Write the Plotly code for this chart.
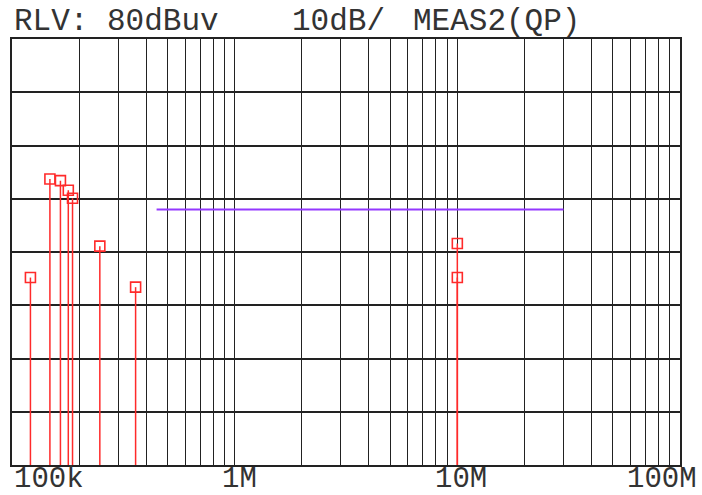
import math
import plotly.graph_objects as go

# Measured quasi-peak emission points (frequency in Hz, level in dBuV)
freqs_hz = [121e3, 148e3, 165e3, 179e3, 187e3, 248e3, 359e3, 10.0e6, 10.0e6]
levels_dbuv = [35.2, 53.7, 53.4, 51.6, 50.1, 41.1, 33.4, 41.6, 35.2]

# Limit line
limit_freqs_hz = [446e3, 30e6]
limit_dbuv = [48.0, 48.0]

# Axis settings
ref_level = 80
db_per_div = 10
tick_freqs = [100e3, 1e6, 10e6, 100e6]
tick_labels = ["100k", "1M", "10M", "100M"]
tick_shifts = [37, 5, 4, -18]

header_parts = ["RLV: 80dBuv", "10dB/", "MEAS2(QP)"]
header_x_px = [12, 290, 411]

FONT = "Liberation Mono, Courier New, monospace"
W, H = 702, 495
ML, MR, MT, MB = 12, 22, 39, 30
plot_w = W - ML - MR
plot_h = H - MT - MB

# stems from the floor up to each measured level
stem_x, stem_y = [], []
for f, lv in zip(freqs_hz, levels_dbuv):
    stem_x += [f, f, None]
    stem_y += [0, lv, None]

fig = go.Figure()
fig.add_trace(go.Scatter(
    x=stem_x, y=stem_y, mode="lines",
    line=dict(color="#ff2a2a", width=1.5), hoverinfo="skip", showlegend=False,
))
fig.add_trace(go.Scatter(
    x=limit_freqs_hz, y=limit_dbuv, mode="lines",
    line=dict(color="#9438ff", width=2), showlegend=False,
))
fig.add_trace(go.Scatter(
    x=freqs_hz, y=levels_dbuv, mode="markers",
    marker=dict(symbol="square-open", size=10, color="#ff2a2a",
                line=dict(width=1.6, color="#ff2a2a")),
    showlegend=False,
))

fig.update_xaxes(
    type="log", range=[5, 8], dtick="D1", showticklabels=False, ticks="",
    showgrid=True, gridcolor="#222222", gridwidth=1.4,
    showline=True, linecolor="#222222", linewidth=2, mirror=True, zeroline=False,
)
fig.update_yaxes(
    range=[0, ref_level], dtick=db_per_div, showticklabels=False, ticks="",
    showgrid=True, gridcolor="#222222", gridwidth=1.5,
    showline=True, linecolor="#222222", linewidth=2, mirror=True, zeroline=False,
)

annotations = []
for f, lab, sh in zip(tick_freqs, tick_labels, tick_shifts):
    annotations.append(dict(
        x=math.log10(f), xref="x", y=-MB / plot_h, yref="paper",
        text=lab, showarrow=False, xanchor="center", yanchor="bottom",
        xshift=sh, yshift=-3,
        font=dict(family=FONT, size=29, color="#333333"),
    ))
for txt, px in zip(header_parts, header_x_px):
    annotations.append(dict(
        x=(px - ML) / plot_w, xref="paper", y=1 + (MT - 22) / plot_h, yref="paper",
        text=txt.replace(" ", "&nbsp;"), showarrow=False, xanchor="left", yanchor="middle",
        font=dict(family=FONT, size=31, color="#333333"),
    ))

fig.update_layout(
    width=W, height=H,
    margin=dict(l=ML, r=MR, t=MT, b=MB),
    paper_bgcolor="white", plot_bgcolor="white",
    annotations=annotations,
)

fig.write_html("out.html")
